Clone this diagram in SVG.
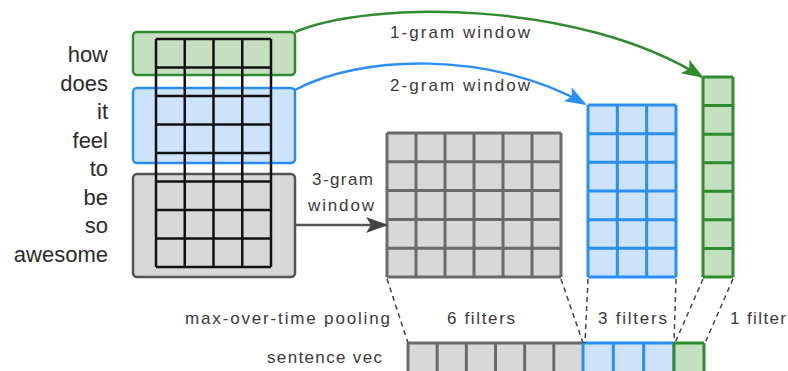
<svg xmlns="http://www.w3.org/2000/svg" width="788" height="371" viewBox="0 0 788 371">
<style>
.word{font-family:"Liberation Sans",Arial,sans-serif;font-size:22px;fill:#2b2b2b;text-anchor:end}
.lbl{font-family:"Liberation Sans",Arial,sans-serif;font-size:17px;fill:#3a3a3a}
.gline{stroke:#111;stroke-width:2.5;fill:none}
.grayg{stroke:#6a6a6a;stroke-width:3;fill:none}
.blueg{stroke:#2b8ef2;stroke-width:3;fill:none}
.greeng{stroke:#2e8b2e;stroke-width:3;fill:none}
.dash{stroke:#444;stroke-width:1.5;stroke-dasharray:5 4;fill:none}
</style>
<defs>
<marker id="ag" markerWidth="22" markerHeight="16" refX="20" refY="8" orient="auto" markerUnits="userSpaceOnUse"><path d="M0,0 L22,8 L0,16 L5,8 z" fill="#2e8b2e"/></marker>
<marker id="ab" markerWidth="22" markerHeight="16" refX="20" refY="8" orient="auto" markerUnits="userSpaceOnUse"><path d="M0,0 L22,8 L0,16 L5,8 z" fill="#2b8ef2"/></marker>
<marker id="ak" markerWidth="22" markerHeight="16" refX="20" refY="8" orient="auto" markerUnits="userSpaceOnUse"><path d="M0,0 L22,8 L0,16 L5,8 z" fill="#444"/></marker>
</defs>
<rect width="788" height="371" fill="#fff"/>

<g id="words">
<text class="word" x="108" y="62">how</text>
<text class="word" x="108" y="90.5">does</text>
<text class="word" x="108" y="119">it</text>
<text class="word" x="108" y="147.5">feel</text>
<text class="word" x="108" y="176">to</text>
<text class="word" x="108" y="204.5">be</text>
<text class="word" x="108" y="233">so</text>
<text class="word" x="108" y="261.5">awesome</text>
</g>

<g id="window1">
<rect x="133" y="32" width="162" height="43" rx="4" fill="#c6dfc1" stroke="#2e8b2e" stroke-width="2.5"/>
</g>
<g id="window2">
<rect x="133" y="88" width="162" height="75" rx="4" fill="#cde3fa" stroke="#2b8ef2" stroke-width="2.5"/>
</g>
<g id="window3">
<rect x="133" y="174" width="162" height="103" rx="4" fill="#d8d8d8" stroke="#555" stroke-width="2.5"/>
</g>

<g id="embedding">
<path class="gline" d="M156,39V267M184.75,39V267M213.5,39V267M242.25,39V267M271,39V267M156,39H271M156,67.5H271M156,96H271M156,124.5H271M156,153H271M156,181.5H271M156,210H271M156,238.5H271M156,267H271"/>
</g>

<g id="conv3">
<rect x="387" y="133" width="174" height="144" fill="#d8d8d8"/>
<path class="grayg" d="M387,133V277M416,133V277M445,133V277M474,133V277M503,133V277M532,133V277M561,133V277M387,133H561M387,161.8H561M387,190.6H561M387,219.4H561M387,248.2H561M387,277H561"/>
</g>

<g id="conv2">
<rect x="588" y="105" width="88" height="172" fill="#cde3fa"/>
<path class="blueg" d="M588,105V277M617.33,105V277M646.67,105V277M676,105V277M588,105H676M588,133.67H676M588,162.33H676M588,191H676M588,219.67H676M588,248.33H676M588,277H676"/>
</g>

<g id="conv1">
<rect x="703" y="77" width="30" height="200" fill="#c6dfc1"/>
<path class="greeng" d="M703,77V277M733,77V277M703,77H733M703,105.57H733M703,134.14H733M703,162.71H733M703,191.29H733M703,219.86H733M703,248.43H733M703,277H733"/>
</g>

<g id="sentvec">
<rect x="408" y="343" width="175" height="30" fill="#d8d8d8"/>
<path class="grayg" d="M408,343V373M437.17,343V373M466.33,343V373M495.5,343V373M524.67,343V373M553.83,343V373M408,343H583"/>
<rect x="583" y="343" width="91" height="30" fill="#cde3fa"/>
<path class="blueg" d="M583,343V373M613.33,343V373M643.67,343V373M674,343V373M583,343H674"/>
<rect x="674" y="343" width="30" height="30" fill="#c6dfc1"/>
<path class="greeng" d="M674,343V373M704,343V373M674,343H704"/>
</g>

<g id="connectors">
<path d="M295,32 C370,0 580,0 702,77" stroke="#2e8b2e" stroke-width="2.5" fill="none" marker-end="url(#ag)"/>
<path d="M295,90 C360,55 490,50 585,104" stroke="#2b8ef2" stroke-width="2.5" fill="none" marker-end="url(#ab)"/>
<path d="M295,225 H386" stroke="#555" stroke-width="2.5" fill="none" marker-end="url(#ak)"/>
<path class="dash" d="M387,279 L408,343 M561,279 L583,343 M588,279 L585,343 M676,279 L674,343 M703,279 L675,343 M733,279 L705,343"/>
</g>

<g id="labels">
<text class="lbl" x="390" y="38" textLength="140" lengthAdjust="spacing">1-gram window</text>
<text class="lbl" x="390" y="91" textLength="140" lengthAdjust="spacing">2-gram window</text>
<text class="lbl" x="312" y="185" textLength="61" lengthAdjust="spacing">3-gram</text>
<text class="lbl" x="308" y="211" textLength="66" lengthAdjust="spacing">window</text>
<text class="lbl" x="185" y="324" textLength="205" lengthAdjust="spacing">max-over-time pooling</text>
<text class="lbl" x="447" y="324" textLength="68" lengthAdjust="spacing">6 filters</text>
<text class="lbl" x="598" y="324" textLength="69" lengthAdjust="spacing">3 filters</text>
<text class="lbl" x="730" y="324" textLength="56" lengthAdjust="spacing">1 filter</text>
<text class="lbl" x="267" y="363" textLength="115" lengthAdjust="spacing">sentence vec</text>
</g>
</svg>
